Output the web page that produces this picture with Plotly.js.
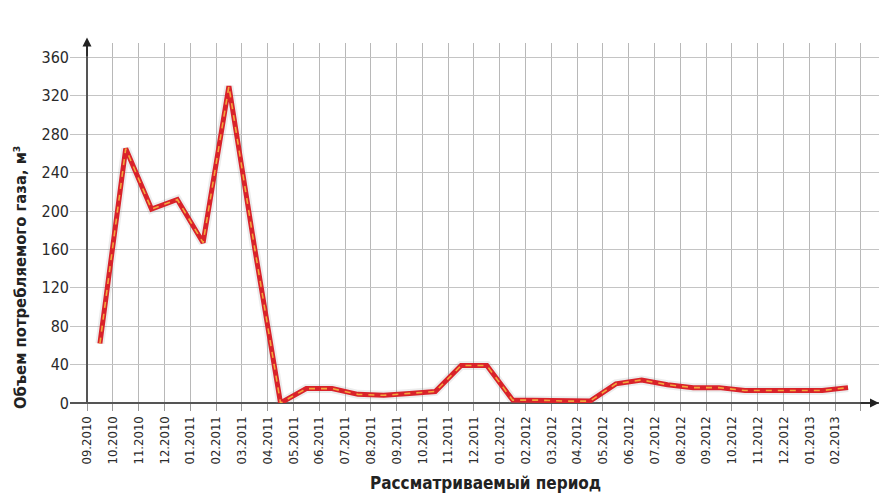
<!DOCTYPE html>
<html>
<head>
<meta charset="utf-8">
<script src="https://cdn.plot.ly/plotly-3.0.1.min.js"></script>
<style>html,body{margin:0;padding:0;background:#fff;}#chart{width:881px;height:497px;}</style>
</head>
<body>
<div id="chart"></div>
<script>
var periodLabels = ['09.2010','10.2010','11.2010','12.2010','01.2011','02.2011','03.2011','04.2011','05.2011','06.2011','07.2011','08.2011','09.2011','10.2011','11.2011','12.2011','01.2012','02.2012','03.2012','04.2012','05.2012','06.2012','07.2012','08.2012','09.2012','10.2012','11.2012','12.2012','01.2013','02.2013'];
var gasVolume = [62,265,202,212,167,330,161,0,15,15,9,8,10,12,39,39,3,3,2,2,20,24,19,16,16,13,13,13,13,16];
var yTicks = [0,40,80,120,160,200,240,280,320,360];
var xTitle = 'Рассматриваемый период';
var yTitle = 'Объем потребляемого газа, м³';

var xs = gasVolume.map(function(v,i){return i+0.5;});
var tickPos = periodLabels.map(function(l,i){return i;}).concat([periodLabels.length]);
var tickTxt = periodLabels.concat(['']);

var narrow = "'Liberation Sans Narrow', 'DejaVu Sans Condensed', sans-serif";

var traces = [
  {x:xs, y:gasVolume, mode:'lines', line:{color:'rgba(150,150,150,0.18)', width:9}, hoverinfo:'skip'},
  {x:xs, y:gasVolume, mode:'lines', line:{color:'#d9222a', width:5}},
  {x:xs, y:gasVolume, mode:'lines', line:{color:'#f3a73c', width:1.6, dash:'6px,6px'}, hoverinfo:'skip'}
];

var layout = {
  width:881, height:497,
  margin:{l:70, r:2, t:43, b:94},
  paper_bgcolor:'#fff', plot_bgcolor:'#fff',
  showlegend:false,
  xaxis:{
    range:[-0.66, 30.7],
    tickmode:'array', tickvals:tickPos, ticktext:tickTxt,
    tickangle:-90,
    ticks:'outside', ticklen:7, tickcolor:'#999', tickwidth:1,
    showgrid:true, gridcolor:'#b8b8b8', gridwidth:1,
    zeroline:true, zerolinecolor:'#555', zerolinewidth:1.5,
    showline:false,
    tickfont:{family:narrow, size:13, color:'#2a2a2a'}
  },
  yaxis:{
    range:[0, 375],
    tickmode:'array', tickvals:yTicks,
    ticks:'',
    showgrid:true, gridcolor:'#c4c4c4', gridwidth:1,
    zeroline:true, zerolinecolor:'#555', zerolinewidth:1.5,
    showline:false,
    tickfont:{family:narrow, size:16, color:'#2a2a2a'}
  },
  annotations:[
    {x:0, xref:'x', y:1.015, yref:'paper', ax:0, ay:20, showarrow:true, arrowhead:2, arrowsize:1.2, arrowwidth:1.5, arrowcolor:'#222', text:''},
    {x:1, xref:'paper', y:0, yref:'y', ax:-20, ay:0, showarrow:true, arrowhead:2, arrowsize:1.2, arrowwidth:1.5, arrowcolor:'#222', text:''},
    {text:yTitle, textangle:-90, xref:'paper', yref:'paper', x:-0.0618, y:0.347, xanchor:'center', yanchor:'middle', showarrow:false,
     font:{family:narrow, size:16.5, color:'#222', weight:'bold'}},
    {text:xTitle, xref:'paper', yref:'paper', x:0.513, y:-0.222, xanchor:'center', yanchor:'middle', showarrow:false,
     font:{family:narrow, size:17, color:'#222', weight:'bold'}}
  ]
};

Plotly.newPlot('chart', traces, layout, {displayModeBar:false, staticPlot:true});
</script>
</body>
</html>
